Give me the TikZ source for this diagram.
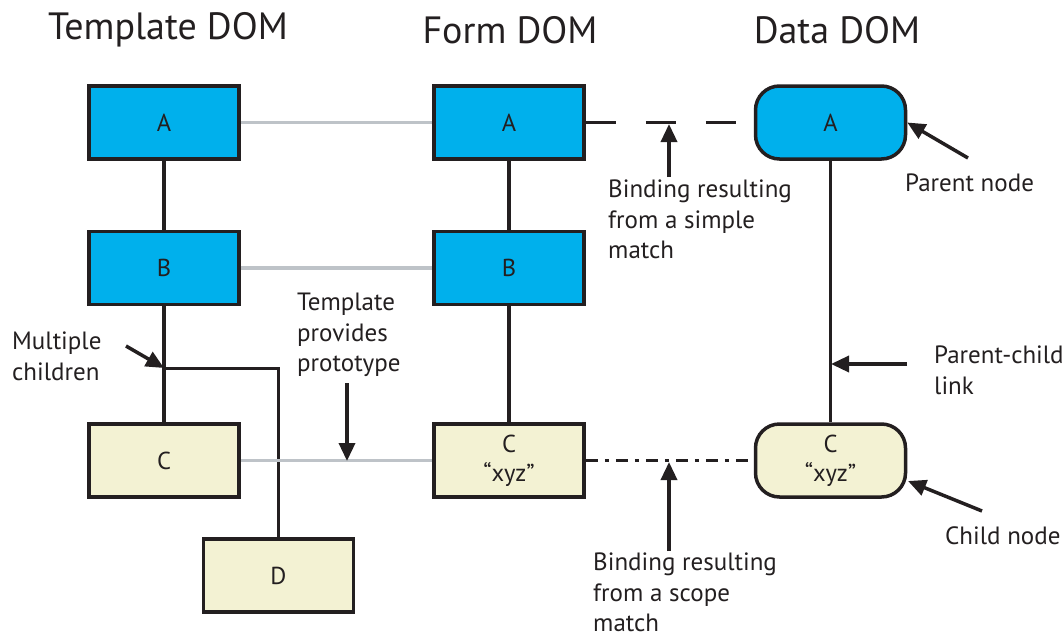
\documentclass[tikz,border=0pt]{standalone}
\usepackage{fontspec}
\setmainfont{PT Sans}
\usetikzlibrary{arrows.meta}
\definecolor{domblue}{HTML}{00B0EC}
\definecolor{domcream}{HTML}{F3F2D3}
\definecolor{bindgray}{HTML}{BEC3C8}
\definecolor{ink}{HTML}{231F20}
\tikzset{
  x=1pt,y=-1pt,
  box/.style={draw=ink,line width=3.5pt,minimum width=150pt,minimum height=73pt,inner sep=0pt,font=\fontsize{24.5}{26}\selectfont,text=ink,align=center},
  bluebox/.style={box,fill=domblue},
  creambox/.style={box,fill=domcream},
  roundbox/.style={rounded corners=24pt},
  link/.style={draw=ink,line width=3.5pt},
  bind/.style={draw=bindgray,line width=3.5pt},
  note/.style={anchor=north west,inner sep=0pt,align=left,text=ink,font=\fontsize{25}{30.5}\selectfont},
  title/.style={inner sep=0pt,text=ink,font=\fontsize{38}{40}\selectfont},
  pointer/.style={draw=ink,line width=3.5pt,-{Triangle[length=18pt,width=16pt]}},
}
\begin{document}
\begin{tikzpicture}
\useasboundingbox (0,0) rectangle (1064,637);
% titles
\node[title] (t1) at (168,30) {Template DOM};
\node[title] (t2) at (510,30) {Form DOM};
\node[title] (t3) at (837,30) {Data DOM};
% template
\node[bluebox] (tA) at (164,122.5) {A};
\node[bluebox] (tB) at (164,268) {B};
\node[creambox] (tC) at (164,460.5) {C};
\node[creambox] (tD) at (278.5,575.5) {D};
% form
\node[bluebox] (fA) at (509,122.5) {A};
\node[bluebox] (fB) at (509,268) {B};
\node[creambox] (fC) at (509,460.5) {C\\[3pt]“xyz”};
% data
\node[bluebox,roundbox] (dA) at (830.5,122.5) {A};
\node[creambox,roundbox] (dC) at (830.5,460.5) {C\\[3pt]“xyz”};
% template links
\draw[link] (tA) -- (tB);
\draw[link] (tB) -- (tC);
\coordinate (j) at (164,368);
\draw[link,line width=3pt] (j) -| (tD.north);
% form links
\draw[link] (fA) -- (fB);
\draw[link] (fB) -- (fC);
% data link
\draw[link] (dA) -- (dC);
% template-form bindings
\draw[bind] (tA.east) -- (fA.west);
\draw[bind] (tB.east) -- (fB.west);
\draw[bind] (tC.east) -- (fC.west);
% form-data bindings
\draw[link,dash pattern=on 30pt off 30pt] (fA.east) -- (dA.west);
\draw[link,dash pattern=on 12pt off 7pt on 4pt off 7pt] (fC.east) -- (dC.west);
% notes
\node[note] (n1) at (12,332) {Multiple\\children};
\coordinate (n1t) at (126,346);
\draw[pointer] (n1t) -- (j);

\node[note] (n2) at (297,293) {Template\\provides\\prototype};
\coordinate (n2t) at (347,383);
\coordinate (n2h) at (347,461);
\draw[pointer] (n2t) -- (n2h);

\node[note] (n3) at (608,180) {Binding resulting\\from a simple\\match};
\coordinate (n3t) at (669,177);
\coordinate (n3h) at (669,124);
\draw[pointer] (n3t) -- (n3h);

\node[note] (n4) at (593,553) {Binding resulting\\from a scope\\match};
\coordinate (n4t) at (669,551);
\coordinate (n4h) at (669,462);
\draw[pointer] (n4t) -- (n4h);

\node[note] (n5) at (905,174) {Parent node};
\coordinate (n5t) at (968,158);
\draw[pointer] (n5t) -- (dA.east);

\node[note] (n6) at (934,346) {Parent-child\\link};
\coordinate (n6t) at (907,364);
\coordinate (n6h) at (831,364);
\draw[pointer] (n6t) -- (n6h);

\node[note] (n7) at (945,526) {Child node};
\coordinate (n7t) at (982,511);
\coordinate (n7h) at (908,481);
\draw[pointer] (n7t) -- (n7h);
\end{tikzpicture}
\end{document}
